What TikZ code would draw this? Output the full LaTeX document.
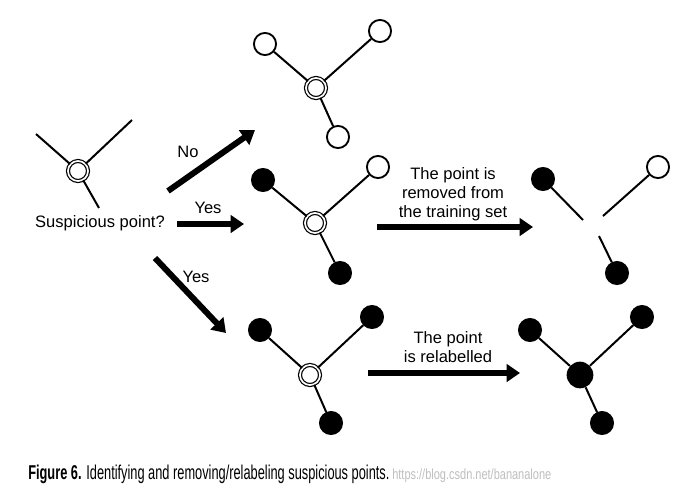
\documentclass[tikz,border=0pt]{standalone}
\usepackage{fontspec}
\setmainfont{Liberation Sans}
\usetikzlibrary{arrows.meta}
\begin{document}
\begin{tikzpicture}[x=0.75pt,y=-0.75pt,
  edge/.style={line width=1.5pt},
  hollow/.style={circle,draw=black,line width=1.4pt,fill=white,minimum size=16.6pt,inner sep=0pt},
  solid/.style={circle,fill=black,draw=black,line width=1pt,minimum size=17pt,inner sep=0pt},
  suspect/.style={circle,draw=black,line width=0.9pt,double=white,double distance=1.3pt,fill=white,minimum size=15pt,inner sep=0pt},
  bigsolid/.style={circle,fill=black,minimum size=20pt,inner sep=0pt},
  bigarrow/.style={line width=4.5pt,-{Triangle[length=10pt,width=13pt]}},
  lbl/.style={font=\fontsize{12.4pt}{14.3pt}\selectfont,align=center,inner sep=0pt}
]
\useasboundingbox (0,0) rectangle (690,490);
\fill[white] (0,0) rectangle (690,490);

% top-left graph
\node[suspect] (s0) at (78,171) {};
\coordinate (s0a) at (36,134);
\coordinate (s0b) at (132,120);
\coordinate (s0c) at (99,208);
\draw[edge] (s0) -- (s0a);
\draw[edge] (s0) -- (s0b);
\draw[edge] (s0) -- (s0c);
\node[lbl] (q) at (100,223) {Suspicious point?};

% arrows from question
\coordinate (n1) at (168,191);
\coordinate (n2) at (255,130);
\draw[bigarrow] (n1) -- (n2);
\node[lbl] (no) at (188,152) {No};
\coordinate (y1) at (177,224);
\coordinate (y2) at (244,224);
\draw[bigarrow] (y1) -- (y2);
\node[lbl] (yes1) at (208,208) {Yes};
\coordinate (d1) at (155,258);
\coordinate (d2) at (226,333);
\draw[bigarrow] (d1) -- (d2);
\node[lbl] (yes2) at (196,277) {Yes};

% top graph (No)
\node[suspect] (t0) at (316,88) {};
\node[hollow] (t1) at (265,44) {};
\node[hollow] (t2) at (380,31) {};
\node[hollow] (t3) at (338,137) {};
\draw[edge] (t0) -- (t1);
\draw[edge] (t0) -- (t2);
\draw[edge] (t0) -- (t3);

% middle graph
\node[suspect] (m0) at (315,223) {};
\node[solid] (m1) at (263,180) {};
\node[hollow] (m2) at (378,167) {};
\node[solid] (m3) at (340,273) {};
\draw[edge] (m0) -- (m1);
\draw[edge] (m0) -- (m2);
\draw[edge] (m0) -- (m3);

\coordinate (ma1) at (377,227);
\coordinate (ma2) at (533,227);
\draw[bigarrow] (ma1) -- (ma2);
\node[lbl] (mt) at (453,194) {The point is\\removed from\\the training set};

% middle right graph (point removed)
\node[solid] (r1) at (543,179) {};
\node[hollow] (r2) at (658,167) {};
\node[solid] (r3) at (617,273) {};
\coordinate (r1e) at (583,220);
\coordinate (r2e) at (603,216);
\coordinate (r3e) at (599,236);
\draw[edge] (r1) -- (r1e);
\draw[edge] (r2) -- (r2e);
\draw[edge] (r3) -- (r3e);

% bottom graph
\node[suspect] (b0) at (310,375) {};
\node[solid] (b1) at (260,330) {};
\node[solid] (b2) at (372,317) {};
\node[solid] (b3) at (331,423) {};
\draw[edge] (b0) -- (b1);
\draw[edge] (b0) -- (b2);
\draw[edge] (b0) -- (b3);

\coordinate (ba1) at (368,373);
\coordinate (ba2) at (520,373);
\draw[bigarrow] (ba1) -- (ba2);
\node[lbl] (bt) at (448,347) {The point\\is relabelled};

% bottom right graph (relabelled)
\node[bigsolid] (c0) at (580,375) {};
\node[solid] (c1) at (530,330) {};
\node[solid] (c2) at (642,317) {};
\node[solid] (c3) at (602,423) {};
\draw[edge] (c0) -- (c1);
\draw[edge] (c0) -- (c2);
\draw[edge] (c0) -- (c3);

% caption
\node[anchor=base west,inner sep=0pt] (cap) at (28,479)
  {\scalebox{0.64}[1]{\fontsize{15pt}{18pt}\selectfont\textbf{Figure 6.} Identifying and removing/relabeling suspicious points.}};
\node[anchor=base west,inner sep=0pt,text=black!25] (wm) at (392,479)
  {\scalebox{0.75}[1]{\fontsize{11pt}{13pt}\selectfont https://blog.csdn.net/bananalone}};
\end{tikzpicture}
\end{document}
